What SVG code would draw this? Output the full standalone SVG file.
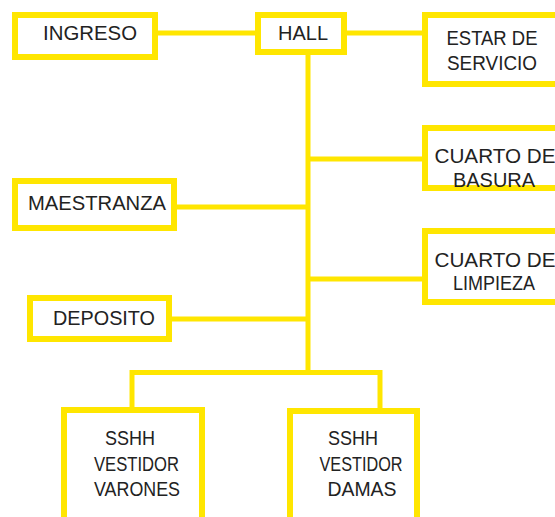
<svg xmlns="http://www.w3.org/2000/svg" width="555" height="517" viewBox="0 0 555 517">
<style>
.box{fill:#ffffff;stroke:#ffe600;stroke-width:6}
.ln{fill:none;stroke:#ffe600;stroke-width:5}
.t{font-family:"Liberation Sans",Arial,sans-serif;font-size:20px;fill:#222222;text-anchor:middle}
</style>
<rect width="555" height="517" fill="#ffffff"/>
<g id="connectors">
<line class="ln" x1="155" y1="33" x2="258" y2="33"/>
<line class="ln" x1="344" y1="33" x2="425" y2="33"/>
<line class="ln" x1="308" y1="52" x2="308" y2="375"/>
<line class="ln" x1="308" y1="159" x2="425" y2="159"/>
<line class="ln" x1="174" y1="207" x2="308" y2="207"/>
<line class="ln" x1="308" y1="279" x2="425" y2="279"/>
<line class="ln" x1="169" y1="319" x2="308" y2="319"/>
<line class="ln" x1="130" y1="372.5" x2="382" y2="372.5"/>
<line class="ln" x1="132" y1="370" x2="132" y2="410"/>
<line class="ln" x1="380" y1="370" x2="380" y2="411"/>
</g>
<g id="ingreso">
<rect class="box" x="15" y="15" width="140" height="42"/>
<text class="t" x="90" y="40" textLength="94" lengthAdjust="spacingAndGlyphs">INGRESO</text>
</g>
<g id="hall">
<rect class="box" x="258" y="15" width="86" height="37"/>
<text class="t" x="303" y="40" textLength="50" lengthAdjust="spacingAndGlyphs">HALL</text>
</g>
<g id="estar">
<rect class="box" x="425" y="15" width="150" height="69"/>
<text class="t" x="492" y="45" textLength="91" lengthAdjust="spacingAndGlyphs">ESTAR DE</text>
<text class="t" x="492" y="70" textLength="90" lengthAdjust="spacingAndGlyphs">SERVICIO</text>
</g>
<g id="basura">
<rect class="box" x="425" y="128" width="150" height="60"/>
<text class="t" x="495" y="163" textLength="121" lengthAdjust="spacingAndGlyphs">CUARTO DE</text>
<text class="t" x="494" y="187" textLength="82" lengthAdjust="spacingAndGlyphs">BASURA</text>
</g>
<g id="limpieza">
<rect class="box" x="425" y="231" width="150" height="71"/>
<text class="t" x="495" y="267" textLength="121" lengthAdjust="spacingAndGlyphs">CUARTO DE</text>
<text class="t" x="494" y="290" textLength="82" lengthAdjust="spacingAndGlyphs">LIMPIEZA</text>
</g>
<g id="maestranza">
<rect class="box" x="15" y="181" width="159" height="47"/>
<text class="t" x="97" y="210" textLength="138" lengthAdjust="spacingAndGlyphs">MAESTRANZA</text>
</g>
<g id="deposito">
<rect class="box" x="30" y="298" width="139" height="41"/>
<text class="t" x="104" y="325" textLength="102" lengthAdjust="spacingAndGlyphs">DEPOSITO</text>
</g>
<g id="varones">
<rect class="box" x="64" y="410" width="138" height="120"/>
<text class="t" x="130" y="445" textLength="50" lengthAdjust="spacingAndGlyphs">SSHH</text>
<text class="t" x="136.5" y="471" textLength="85" lengthAdjust="spacingAndGlyphs">VESTIDOR</text>
<text class="t" x="137" y="496" textLength="86" lengthAdjust="spacingAndGlyphs">VARONES</text>
</g>
<g id="damas">
<rect class="box" x="290" y="411" width="127" height="120"/>
<text class="t" x="353" y="445" textLength="50" lengthAdjust="spacingAndGlyphs">SSHH</text>
<text class="t" x="361" y="471" textLength="83" lengthAdjust="spacingAndGlyphs">VESTIDOR</text>
<text class="t" x="362" y="496" textLength="69" lengthAdjust="spacingAndGlyphs">DAMAS</text>
</g>
</svg>
